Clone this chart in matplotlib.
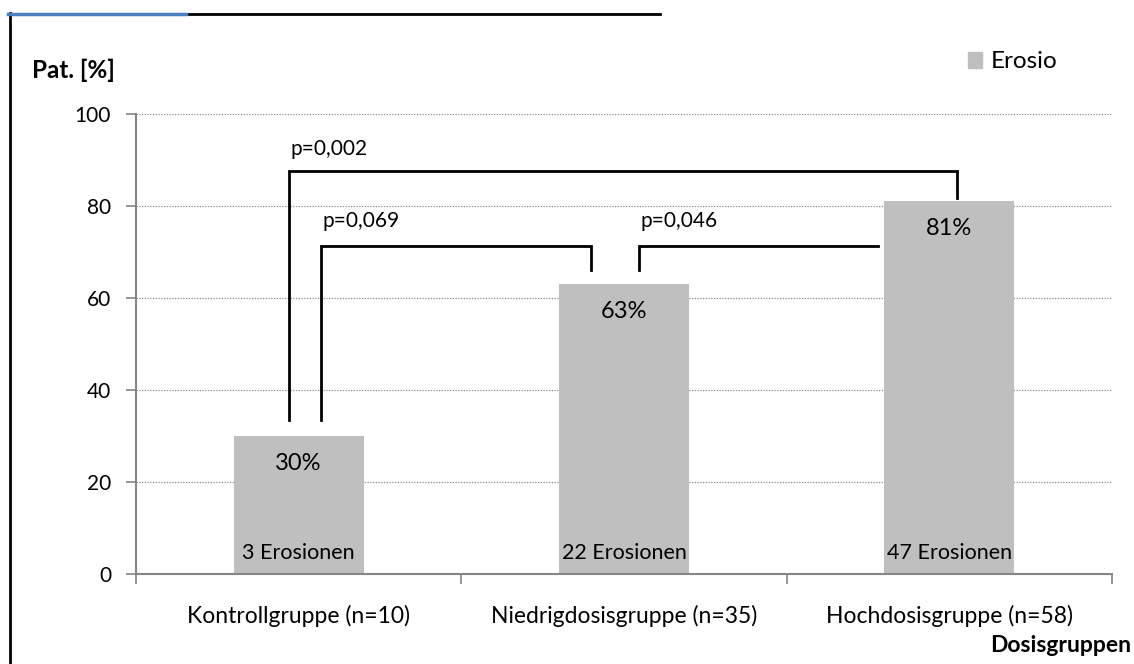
import matplotlib
matplotlib.use("Agg")
import matplotlib.pyplot as plt
from matplotlib.lines import Line2D
from matplotlib.patches import Patch
from matplotlib.ticker import FixedLocator

categories = ["Kontrollgruppe (n=10)", "Niedrigdosisgruppe (n=35)", "Hochdosisgruppe (n=58)"]
values = [30, 63, 81]
value_labels = ["30%", "63%", "81%"]
count_labels = ["3 Erosionen", "22 Erosionen", "47 Erosionen"]
p_labels = ["p=0,002", "p=0,069", "p=0,046"]
yticks = [0, 20, 40, 60, 80, 100]

plt.rcParams['font.family'] = ['Lato', 'DejaVu Sans']
bar_color = "#bfbfbf"
axis_color = "#868686"

fig = plt.figure(figsize=(11.34, 6.64), dpi=100)
ax = fig.add_axes([136/1134, 1-574/664, (1112-136)/1134, (574-114)/664])

x = list(range(len(categories)))
ax.bar(x, values, width=0.4, color=bar_color, zorder=2)
ax.set_xlim(-0.5, 2.5)
ax.set_ylim(0, 100)

# grid
ax.set_yticks(yticks)
ax.set_yticklabels([str(t) for t in yticks], fontsize=15)
for t in yticks[1:]:
    ax.axhline(t, color="#8c8c8c", lw=0.9, ls=(0, (1, 1.2)), zorder=1)

ax.set_xticks(x)
ax.set_xticklabels(categories, fontsize=16.5)
ax.tick_params(axis='x', which='major', length=0, pad=22)
ax.xaxis.set_minor_locator(FixedLocator([-0.5, 0.5, 1.5, 2.5]))
ax.tick_params(axis='x', which='minor', length=7, color=axis_color, width=1.2)
ax.tick_params(axis='y', length=7, color=axis_color, width=1.2, pad=11)

for s in ["top", "right"]:
    ax.spines[s].set_visible(False)
for s in ["left", "bottom"]:
    ax.spines[s].set_color(axis_color)
    ax.spines[s].set_linewidth(1.5)

# value labels
for xi, v, lab, cnt in zip(x, values, value_labels, count_labels):
    ax.text(xi, v - 6, lab, ha='center', va='center', fontsize=17, zorder=3)
    ax.text(xi, 4.5, cnt, ha='center', va='center', fontsize=15.5, zorder=3)

# brackets
bk = dict(color='black', lw=2, solid_joinstyle='miter', zorder=4, clip_on=False)
ax.plot([-0.03, -0.03, 2.024, 2.024], [33.5, 87.6, 87.6, 81.8], **bk)
ax.plot([0.069, 0.069, 0.899, 0.899], [33.5, 71.3, 71.3, 66.0], **bk)
ax.plot([1.046, 1.046, 1.781], [66.0, 71.3, 71.3], **bk)
ax.text(-0.025, 92.3, p_labels[0], ha='left', va='center', fontsize=15)
ax.text(0.074, 76.7, p_labels[1], ha='left', va='center', fontsize=15)
ax.text(1.051, 76.7, p_labels[2], ha='left', va='center', fontsize=15)

# axis titles
fig.text(32/1134, 1-70/664, "Pat. [%]", fontsize=17.5, fontweight='bold', ha='left', va='center')
fig.text(1131/1134, 1-645/664, "Dosisgruppen", fontsize=16.5, fontweight='bold', ha='right', va='center')

# legend
fig.legend(handles=[Patch(color=bar_color, label="Erosio")], loc='center left',
           bbox_to_anchor=(946/1134, 1-62/664), frameon=False, fontsize=17.5,
           handlelength=0.6, handleheight=0.6, handletextpad=0.35)

# frame lines (screenshot border)
fig.add_artist(Line2D([10/1134, 10/1134], [0, 1-13/664], color='black', lw=2))
fig.add_artist(Line2D([186/1134, 660/1134], [1-14/664, 1-14/664], color='black', lw=2))
fig.add_artist(Line2D([8/1134, 186/1134], [1-14/664, 1-14/664], color='#4a7fc1', lw=2.5))

fig.savefig("out.png", dpi=100)
